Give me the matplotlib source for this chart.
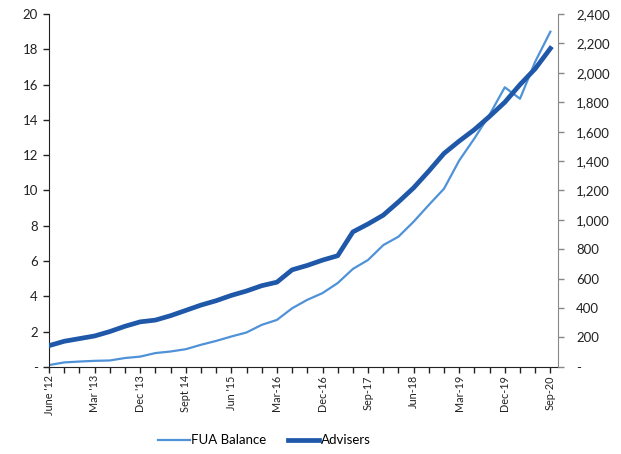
import numpy as np
import matplotlib.pyplot as plt
from matplotlib.ticker import FuncFormatter

# quarterly, June 2012 .. Sep 2020
tick_labels = ["June '12", "Mar '13", "Dec '13", "Sept 14", "Jun '15", "Mar-16",
               "Dec-16", "Sep-17", "Jun-18", "Mar-19", "Dec-19", "Sep-20"]

# FUA balance ($bn, left axis)
fua_balance = [0.10, 0.25, 0.30, 0.34, 0.36, 0.50, 0.58, 0.78, 0.87, 1.00,
               1.25, 1.47, 1.72, 1.95, 2.38, 2.66, 3.32, 3.80, 4.18, 4.75,
               5.55, 6.06, 6.90, 7.38, 8.23, 9.18, 10.10, 11.70, 12.95, 14.30,
               15.85, 15.20, 17.30, 19.00]

# number of advisers (right axis)
advisers = [144, 174, 192, 210, 240, 276, 306, 318, 348, 384,
            420, 450, 486, 516, 552, 576, 660, 690, 726, 756,
            918, 972, 1032, 1122, 1218, 1332, 1452, 1536, 1614, 1704,
            1800, 1920, 2028, 2166]

light_blue = '#4f92d8'
dark_blue = '#1f58a8'

plt.rcParams['font.family'] = ['Lato', 'DejaVu Sans']

x = np.arange(len(fua_balance))

fig = plt.figure(figsize=(6.21, 4.54), dpi=100)
ax = fig.add_axes([0.079, 0.192, 0.8195, 0.777])
ax2 = ax.twinx()

l1, = ax.plot(x, fua_balance, color=light_blue, lw=1.6, label='FUA Balance')
l2, = ax2.plot(x, advisers, color=dark_blue, lw=3.4, label='Advisers')

ax.set_xlim(0, 33.5)
ax.set_ylim(0, 20)
ax2.set_ylim(0, 2400)
ax.set_yticks(np.arange(0, 21, 2))
ax2.set_yticks(np.arange(0, 2401, 200))

ax.yaxis.set_major_formatter(FuncFormatter(lambda v, p: '-' if v == 0 else f'{v:.0f}'))
ax2.yaxis.set_major_formatter(FuncFormatter(lambda v, p: '-' if v == 0 else f'{v:,.0f}'))

ax.set_xticks(x, minor=True)
ax.set_xticks(x[::3])
ax.set_xticklabels(tick_labels, rotation=90, fontsize=7.8, color='#222222')
ax.tick_params(axis='x', which='both', length=4, width=1, color='#222222', pad=2)
ax.tick_params(axis='y', length=4, width=1, color='#222222', labelsize=9.5,
               labelcolor='#222222', pad=4)
ax2.tick_params(axis='y', length=4, width=1, color='#888888', labelsize=9.5,
                labelcolor='#222222', pad=9)

for a in (ax, ax2):
    a.spines['top'].set_visible(False)
ax.spines['left'].set_color('#222222')
ax.spines['bottom'].set_color('#222222')
ax2.spines['left'].set_visible(False)
ax2.spines['bottom'].set_visible(False)
ax2.spines['right'].set_color('#888888')
ax.spines['right'].set_visible(False)

fig.legend(handles=[l1, l2], loc='center', bbox_to_anchor=(0.426, 0.03),
           ncol=2, frameon=False, fontsize=9.5, handlelength=2.4,
           handletextpad=0.1, columnspacing=1.6)

fig.savefig('out.png', dpi=100)
